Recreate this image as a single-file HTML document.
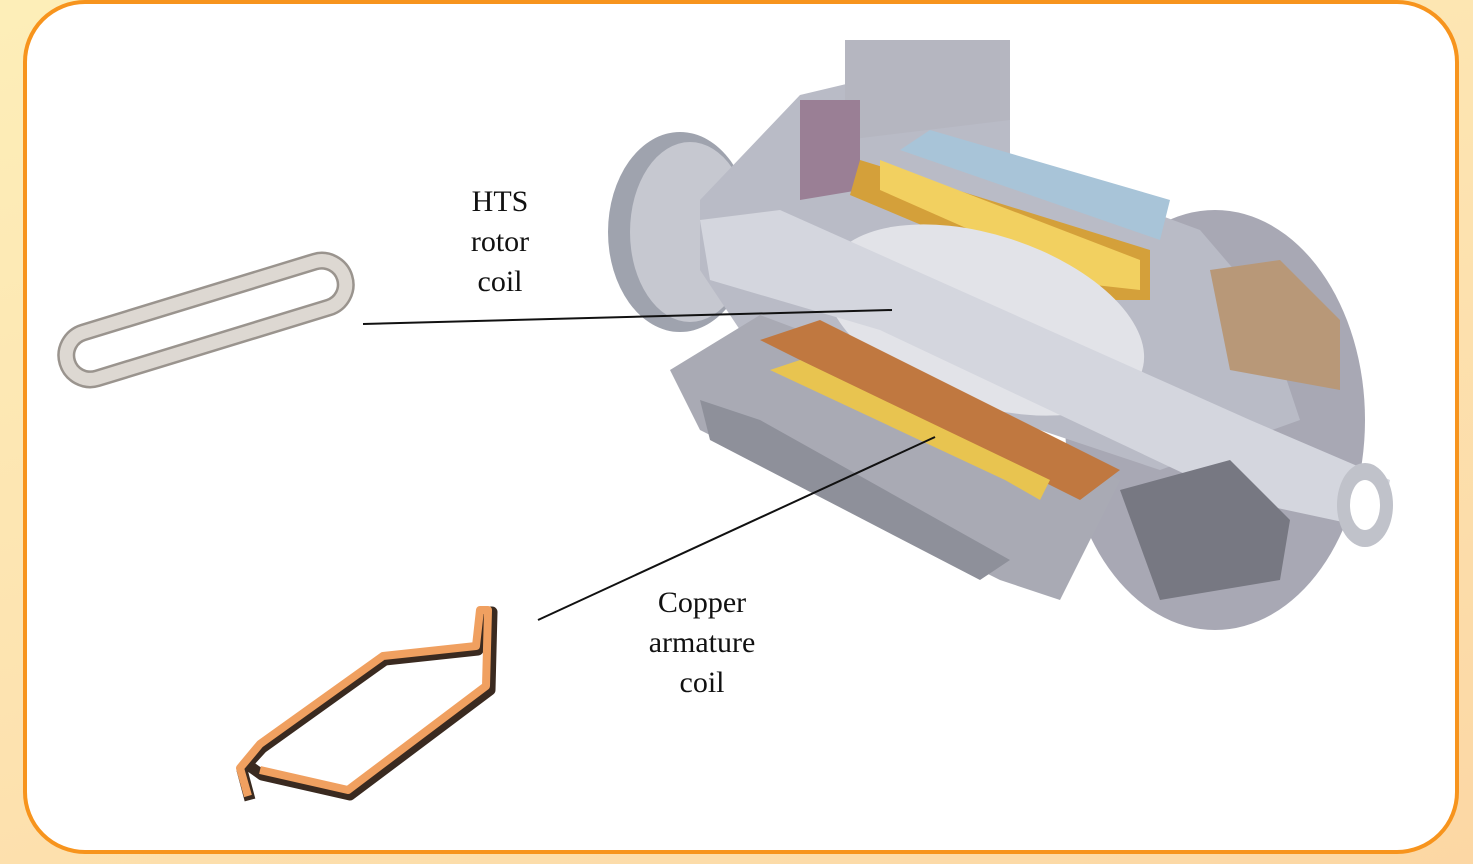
<!DOCTYPE html>
<html><head><meta charset="utf-8"><style>
html,body{margin:0;padding:0}
body{width:1473px;height:864px;overflow:hidden;background:linear-gradient(160deg,#fdeeb8 0%,#fde3b0 50%,#fcd7a4 100%);position:relative;font-family:"Liberation Serif",serif}
.box{position:absolute;left:23px;top:0px;width:1428px;height:846px;border:4px solid #f7941d;border-radius:62px;background:#fff}
.lbl{position:absolute;font-size:30px;line-height:40px;text-align:center;color:#111}
svg{position:absolute;left:0;top:0}
</style></head><body>
<div class="box"></div>
<svg width="1473" height="864" viewBox="0 0 1473 864">
<g transform="translate(206,320) rotate(-17)">
<rect x="-145" y="-24" width="290" height="48" rx="24" fill="none" stroke="#9a948e" stroke-width="18"/>
<rect x="-145" y="-24" width="290" height="48" rx="24" fill="none" stroke="#ddd8d2" stroke-width="13"/>
</g>
<polyline points="250,800 242,770 262,748 385,660 478,650 482,612 492,612 490,690 350,795 262,775 248,765" fill="none" stroke="#3a2a20" stroke-width="11" stroke-linejoin="round"/>
<polyline points="248,796 240,768 260,744 383,656 476,646 480,610 488,610 486,686 348,790 260,770" fill="none" stroke="#f0a060" stroke-width="8" stroke-linejoin="round"/>
<ellipse cx="1215" cy="420" rx="150" ry="210" fill="#a8a8b4"/>
<ellipse cx="680" cy="232" rx="72" ry="100" fill="#9fa3ae"/>
<ellipse cx="690" cy="232" rx="60" ry="90" fill="#c6c8d0"/>
<polygon points="800,95 1010,45 1010,160 1200,230 1260,300 1300,420 1160,470 740,330 700,270 700,200" fill="#b9bbc6"/>
<polygon points="845,40 1010,40 1010,120 845,140" fill="#b5b6c0"/>
<polygon points="800,100 860,100 860,190 800,200" fill="#9a7f95"/>
<polygon points="860,160 1150,250 1150,300 1100,300 850,195" fill="#d4a03a"/>
<polygon points="880,160 1140,260 1140,290 1095,285 880,190" fill="#f2d060"/>
<polygon points="900,150 1160,240 1170,200 930,130" fill="#a8c4d8"/>
<ellipse cx="985" cy="320" rx="165" ry="85" transform="rotate(18 985 320)" fill="#e2e3e8"/>
<polygon points="700,220 780,210 1250,420 1390,480 1380,530 1240,500 880,330 710,280" fill="#d4d6de"/>
<ellipse cx="1365" cy="505" rx="28" ry="42" fill="#c0c2ca"/>
<ellipse cx="1365" cy="505" rx="15" ry="25" fill="#fff"/>
<polygon points="1210,270 1280,260 1340,320 1340,390 1230,370" fill="#b89878"/>
<polygon points="670,370 760,315 800,330 1120,480 1100,520 1060,600 1000,580 700,430" fill="#a9aab4"/>
<polygon points="760,340 820,320 1120,470 1080,500" fill="#c07840"/>
<polygon points="770,370 800,360 1050,480 1040,500 1005,480" fill="#e8c450"/>
<polygon points="1120,490 1230,460 1290,520 1280,580 1160,600" fill="#777882"/>
<polygon points="700,400 760,420 1010,560 980,580 710,440" fill="#8e909a"/>
</svg>
<svg width="1473" height="864"><line x1="363" y1="324" x2="892" y2="310" stroke="#111" stroke-width="2"/><line x1="538" y1="620" x2="935" y2="437" stroke="#111" stroke-width="2"/></svg>
<div class="lbl" style="left:400px;top:182px;width:200px">HTS<br>rotor<br>coil</div>
<div class="lbl" style="left:602px;top:583px;width:200px">Copper<br>armature<br>coil</div>
</body></html>
